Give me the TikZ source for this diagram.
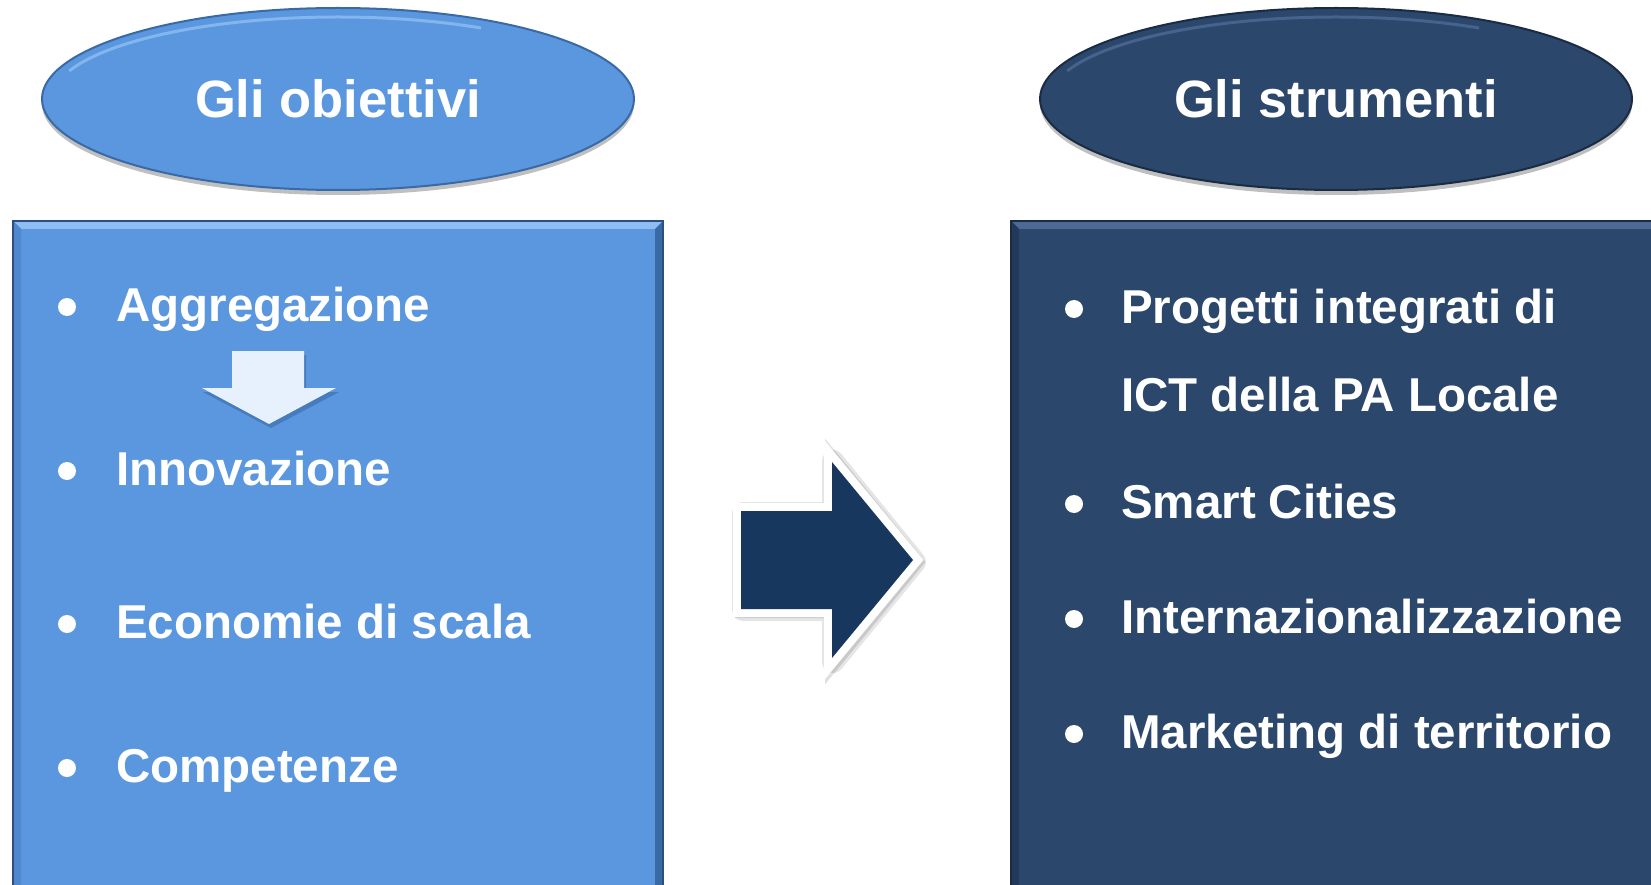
\documentclass[tikz,border=0pt]{standalone}
\usepackage{fontspec}
\setmainfont{Liberation Sans}
\usetikzlibrary{shapes.geometric}
\definecolor{lightblue}{HTML}{5B97DF}
\definecolor{lightbluetop}{HTML}{8DBDF3}
\definecolor{lightblueright}{HTML}{3A6AA5}
\definecolor{lightblueleft}{HTML}{4F87CC}
\definecolor{lightblueline}{HTML}{2B4F80}
\definecolor{navy}{HTML}{2C476C}
\definecolor{navytop}{HTML}{4C6A94}
\definecolor{navyleft}{HTML}{22395A}
\definecolor{navyline}{HTML}{1A2B44}
\definecolor{arrowdark}{HTML}{17375E}
\definecolor{arrowlight}{HTML}{E6F1FD}
\tikzset{
  titleoval/.style={ellipse, minimum width=592pt, minimum height=182pt, inner sep=0pt,
    text=white, font=\fontsize{52.5}{60}\selectfont\bfseries},
  itemtext/.style={anchor=base west, inner sep=0pt, text=white,
    font=\fontsize{47.5}{57}\selectfont\bfseries},
  bulletdot/.style={circle, fill=white, minimum size=18pt, inner sep=0pt},
  ovalshadow/.style={fill=black, opacity=0.25},
}
\begin{document}
\begin{tikzpicture}[x=1pt,y=-1pt]
\useasboundingbox (0,0) rectangle (1651,885);
\fill[white] (0,0) rectangle (1651,885);

% ---- ellipses ----
\fill[ovalshadow] (338,104) ellipse [x radius=296, y radius=91];
\fill[ovalshadow] (1336,104) ellipse [x radius=296, y radius=91];
\node[titleoval, fill=lightblue, draw=lightblueright, line width=2pt] (obj) at (338,99) {Gli obiettivi};
\node[titleoval, fill=navy, draw=navyline, line width=2pt] (str) at (1336,99) {Gli strumenti};
\draw[lightbluetop, line width=3pt, opacity=0.8] (338,99) ++(-160:286 and 82) arc[start angle=-160, end angle=-60, x radius=286, y radius=82];
\draw[navytop, line width=3pt, opacity=0.8] (1336,99) ++(-160:286 and 82) arc[start angle=-160, end angle=-60, x radius=286, y radius=82];

% ---- left box ----
\fill[lightblue] (13,221) rectangle (663,885);
\fill[lightbluetop] (13,221) -- (663,221) -- (655,229) -- (21,229) -- cycle;
\fill[lightblueright] (663,221) -- (663,885) -- (655,885) -- (655,229) -- cycle;
\fill[lightblueleft] (13,221) -- (21,229) -- (21,885) -- (13,885) -- cycle;
\draw[lightblueline, line width=1.5pt] (13,885) -- (13,221) -- (663,221) -- (663,885);

% ---- right box ----
\fill[navy] (1011,221) rectangle (1651,885);
\fill[navytop] (1011,221) -- (1651,221) -- (1651,229) -- (1019,229) -- cycle;
\fill[navyleft] (1011,221) -- (1019,229) -- (1019,885) -- (1011,885) -- cycle;
\draw[navyline, line width=1.5pt] (1011,885) -- (1011,221) -- (1651,221);

% ---- small down arrow ----
\fill[lightblueright, opacity=0.6] (234,355) -- (306,355) -- (306,392) -- (339,392) -- (271,428) -- (203,392) -- (234,392) -- cycle;
\fill[arrowlight] (232,351) -- (304,351) -- (304,388) -- (336,388) -- (269,424) -- (202,388) -- (232,388) -- cycle;

% ---- big arrow ----
\draw[black, opacity=0.10, line width=22pt, line join=round, fill=black] (743,513) -- (833,513) -- (833,461) -- (915,562) -- (833,662) -- (833,610) -- (743,610) -- cycle;
\draw[black, opacity=0.12, line width=16pt, fill=black] (743,513) -- (833,513) -- (833,461) -- (915,562) -- (833,662) -- (833,610) -- (743,610) -- cycle;
\draw[white, line width=16pt, fill=white] (741,511) -- (832,511) -- (832,462) -- (913,560) -- (832,658) -- (832,609) -- (741,609) -- cycle;
\fill[arrowdark] (741,511) -- (832,511) -- (832,462) -- (913,560) -- (832,658) -- (832,609) -- (741,609) -- cycle;

% ---- left items ----
\node[bulletdot] (b1) at (67,307) {};
\node[itemtext] (t1) at (116,321) {Aggregazione};
\node[bulletdot] (b2) at (67,471) {};
\node[itemtext] (t2) at (116,485) {Innovazione};
\node[bulletdot] (b3) at (67,624) {};
\node[itemtext] (t3) at (116,638) {Economie di scala};
\node[bulletdot] (b4) at (67,768) {};
\node[itemtext] (t4) at (116,782) {Competenze};

% ---- right items ----
\node[bulletdot] (r1) at (1074,309) {};
\node[itemtext] (s1) at (1121,323) {Progetti integrati di};
\node[itemtext] (s1b) at (1121,411) {ICT della PA Locale};
\node[bulletdot] (r2) at (1074,504) {};
\node[itemtext] (s2) at (1121,518) {Smart Cities};
\node[bulletdot] (r3) at (1074,619) {};
\node[itemtext] (s3) at (1121,633) {Internazionalizzazione};
\node[bulletdot] (r4) at (1074,734) {};
\node[itemtext] (s4) at (1121,748) {Marketing di territorio};
\end{tikzpicture}
\end{document}
